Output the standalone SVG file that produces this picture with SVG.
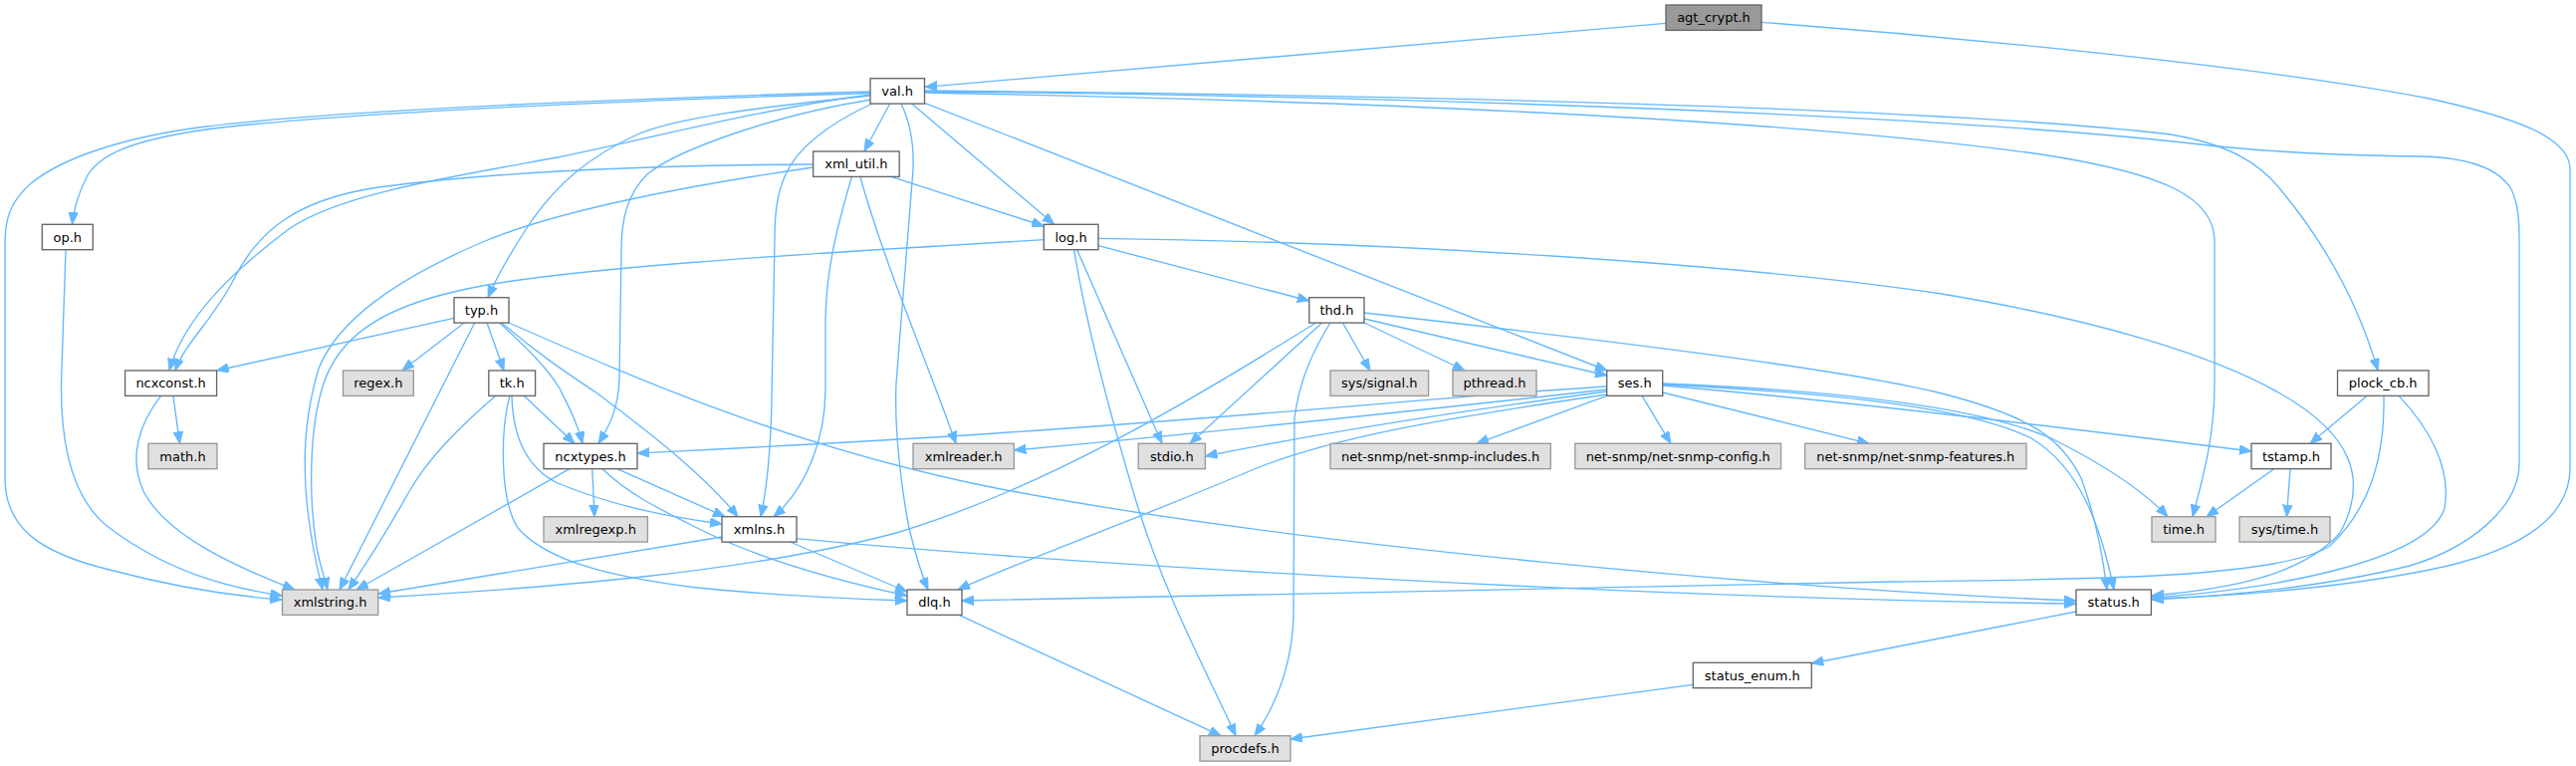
<svg xmlns="http://www.w3.org/2000/svg" width="2587" height="769" viewBox="0 0 2587 769">
<style>
.e path{fill:none;stroke:#63b8ff;stroke-width:1.35;marker-end:url(#ah)}
.n rect{fill:#ffffff;stroke:#666666;stroke-width:1.35}
.x rect{fill:#e0e0e0;stroke:#999999;stroke-width:1.35}
.r rect{fill:#999999;stroke:#666666;stroke-width:1.35}
text{font-family:"DejaVu Sans","Liberation Sans",sans-serif;font-size:13px;fill:#000000;text-anchor:middle}
</style>
<defs>
<marker id="ah" markerWidth="13" markerHeight="10" refX="12" refY="4.75" orient="auto" markerUnits="userSpaceOnUse">
<path d="M0,0 L12,4.75 L0,9.5 Z" fill="#63b8ff" stroke="#63b8ff" stroke-width="1"/>
</marker>
</defs>
<rect width="2587" height="769" fill="#ffffff"/>
<g id="connectors" class="e">
<path d="M1673,23.3 L929,87.3"/>
<path d="M1769,22.3 C1950,36 2270,66 2440,99 C2535,120 2581,140 2581,170 L2581,470 C2581,525 2520,556 2440,572 C2350,590 2250,598 2161,601"/>
<path d="M874,92 C600,100 330,112 207,127 C120,138 60,160 30,185 C10,203 5,220 5,245 L5,480 C5,530 40,555 110,572 C170,588 230,598 283,602"/>
<path d="M874,93.5 C600,102 330,114 207,130 C130,141 100,156 88,176 C78,195 74,210 72.5,225"/>
<path d="M874,96 C760,108 680,118 640,135 C590,158 560,185 535,220 C515,250 500,275 490,298.7"/>
<path d="M874,95 C760,110 650,140 560,158 C450,178 340,195 290,230 C230,275 185,320 170,372"/>
<path d="M875,100 C780,115 680,150 650,175 C630,195 624,220 624,250 L622,380 C621,410 612,428 601,445"/>
<path d="M876,104 C830,125 800,150 789,175 C780,195 778,215 778,240 L775,400 C774,460 769,495 764,518.7"/>
<path d="M893.7,104 L868,151.7"/>
<path d="M915.6,104 L1058.7,225.3"/>
<path d="M905,104 C915,125 918,145 917,170 L900,385 C898,430 905,490 913,530 C920,560 927,580 932,592"/>
<path d="M928.5,103.3 L1614,372"/>
<path d="M928.5,93 C1400,102 1800,120 2050,155 C2180,175 2222,200 2224,240 L2224,385 C2224,440 2212,480 2202,518.7"/>
<path d="M928.5,91 C1400,95 1950,108 2180,135 C2240,145 2270,165 2290,190 C2340,250 2370,310 2388,372"/>
<path d="M928.5,92 C1400,96 1950,115 2210,145 C2280,153 2350,156 2430,157 C2480,158 2510,170 2522,190 C2529,205 2530,220 2530,240 L2530,465 C2530,510 2480,550 2420,568 C2330,590 2240,598 2161,602"/>
<path d="M816.6,165 C650,166 500,172 380,188 C300,200 260,230 235,280 C215,320 185,345 176,372"/>
<path d="M816.6,168 C700,185 560,210 480,245 C400,280 340,320 320,370 C305,420 303,470 310,520 C315,560 320,575 324,592"/>
<path d="M855.5,177.3 C840,230 830,270 829,320 L829,390 C829,440 810,490 777,518.7"/>
<path d="M863.8,177.3 C890,270 930,360 960,445.3"/>
<path d="M895,177.3 L1048.3,227"/>
<path d="M1048.3,240.7 C800,255 550,270 460,292 C380,310 340,340 325,385 C310,430 310,500 318,550 C322,570 326,580 329,592"/>
<path d="M1103,246.7 L1314.8,302"/>
<path d="M1081.5,250.3 L1167,445.3"/>
<path d="M1078.5,250.3 C1090,320 1110,400 1140,500 C1170,600 1215,680 1241,738.7"/>
<path d="M1103,239.3 C1400,243 1750,265 1950,295 C2100,320 2220,355 2290,395 C2360,435 2380,480 2350,535 C2310,580 2230,592 2161,598"/>
<path d="M456,319.3 L217.6,372"/>
<path d="M466.3,324 L404,372"/>
<path d="M489,324 L506,372"/>
<path d="M476.7,324 L341,592"/>
<path d="M501.6,324 C530,350 550,370 562,390 C572,410 580,425 585,445.3"/>
<path d="M503.6,324 C540,355 570,375 600,395 C660,440 710,480 741,518.7"/>
<path d="M511,324 C650,385 800,450 1000,490 C1300,548 1800,592 2085,603"/>
<path d="M497.4,397.4 C460,430 430,460 410,495 C385,540 365,570 350,592"/>
<path d="M526.4,397.4 L577,445.3"/>
<path d="M514,397.4 C515,440 530,470 560,485 C620,510 680,520 725,526"/>
<path d="M512,397.4 C503,430 501,500 520,530 C550,565 620,580 700,590 C780,598 850,601 911,603"/>
<path d="M572,470.7 L358,592"/>
<path d="M594.8,470.7 L597,518.7"/>
<path d="M619.7,470.7 L728,518.7"/>
<path d="M605,470.7 C630,495 660,510 700,530 C770,565 850,585 911,598"/>
<path d="M725,539 C600,560 480,580 380,596"/>
<path d="M793.4,544 L911,594"/>
<path d="M800,540.7 C1000,560 1600,600 2085,606"/>
<path d="M963,617.3 L1226,738.7"/>
<path d="M1370,320 L1614,377"/>
<path d="M1370,324 L1471,372"/>
<path d="M1348.4,324 L1376,372"/>
<path d="M1327.7,324 L1195,445.3"/>
<path d="M1321.5,324 C1200,400 1050,490 900,535 C750,575 550,590 380,600"/>
<path d="M1336,324 C1320,350 1305,380 1300,420 L1299,620 C1297,670 1280,710 1260,738.7"/>
<path d="M1370,314 C1600,340 1850,370 1950,395 C2040,418 2070,440 2090,480 C2105,520 2112,560 2116,592"/>
<path d="M1613.7,388 C1450,398 1300,415 1000,435 C850,445 740,450 640,455"/>
<path d="M1613.7,391 C1400,415 1150,440 1018.4,452"/>
<path d="M1613.7,393 C1450,415 1300,440 1210.4,458"/>
<path d="M1613.7,396 C1450,420 1330,440 1250,475 C1120,530 1020,565 962,592"/>
<path d="M1613.7,397.4 L1483,445.3"/>
<path d="M1649,397.4 L1678,445.3"/>
<path d="M1669.6,394 L1877,445.3"/>
<path d="M1669.6,387 C1800,398 2000,420 2261,453"/>
<path d="M1669.6,385 C1850,392 1990,410 2060,440 C2110,465 2150,490 2177,518.7"/>
<path d="M1669.6,386 C1850,395 1980,410 2040,440 C2090,470 2110,530 2123,592"/>
<path d="M2377,397.4 L2320,445.3"/>
<path d="M2394,397.4 C2395,460 2380,510 2340,548 C2290,580 2100,582 1900,584 C1500,592 1200,600 966,603"/>
<path d="M2409,397.4 C2440,430 2462,470 2455,510 C2440,560 2300,590 2161,600"/>
<path d="M2283.7,470.7 L2216,518.7"/>
<path d="M2300,470.7 L2296.5,518.7"/>
<path d="M2085,614 L1819.3,666"/>
<path d="M1700.3,687.3 L1296,742"/>
<path d="M66,250.6 L61.5,385 C61,440 70,500 110,530 C170,575 230,590 283.5,598"/>
<path d="M161.7,397.4 C140,425 128,460 145,495 C170,540 240,570 296,592"/>
<path d="M174,397.4 L180.5,445.3"/>
</g>
<g id="agt_crypt" class="r"><rect x="1673" y="5" width="96" height="25.4"/><text x="1721" y="22.3">agt_crypt.h</text></g>
<g id="val" class="n"><rect x="874" y="78.7" width="54.5" height="25.4"/><text x="901.2" y="96">val.h</text></g>
<g id="xml_util" class="n"><rect x="816.6" y="152" width="86.6" height="25.4"/><text x="859.9" y="169.3">xml_util.h</text></g>
<g id="log" class="n"><rect x="1048.3" y="225.3" width="54.7" height="25.4"/><text x="1075.6" y="242.6">log.h</text></g>
<g id="op" class="n"><rect x="42.3" y="225.3" width="51" height="25.4"/><text x="67.8" y="242.6">op.h</text></g>
<g id="typ" class="n"><rect x="456" y="298.7" width="55" height="25.4"/><text x="483.5" y="316">typ.h</text></g>
<g id="thd" class="n"><rect x="1314.8" y="298.7" width="55.2" height="25.4"/><text x="1342.4" y="316">thd.h</text></g>
<g id="ncxconst" class="n"><rect x="125.6" y="372" width="92" height="25.4"/><text x="171.6" y="389.3">ncxconst.h</text></g>
<g id="regex" class="x"><rect x="344.5" y="372" width="70.8" height="25.4"/><text x="379.9" y="389.3">regex.h</text></g>
<g id="tk" class="n"><rect x="490.8" y="372" width="46.8" height="25.4"/><text x="514.2" y="389.3">tk.h</text></g>
<g id="sys_signal" class="x"><rect x="1336" y="372" width="98.6" height="25.4"/><text x="1385.3" y="389.3">sys/signal.h</text></g>
<g id="pthread" class="x"><rect x="1459" y="372" width="84" height="25.4"/><text x="1501" y="389.3">pthread.h</text></g>
<g id="ses" class="n"><rect x="1613.7" y="372" width="56" height="25.4"/><text x="1641.7" y="389.3">ses.h</text></g>
<g id="plock_cb" class="n"><rect x="2347.5" y="372" width="91.5" height="25.4"/><text x="2393.2" y="389.3">plock_cb.h</text></g>
<g id="math" class="x"><rect x="149" y="445.3" width="69" height="25.4"/><text x="183.5" y="462.6">math.h</text></g>
<g id="ncxtypes" class="n"><rect x="546" y="445.3" width="94" height="25.4"/><text x="593" y="462.6">ncxtypes.h</text></g>
<g id="xmlreader" class="x"><rect x="917" y="445.3" width="101.4" height="25.4"/><text x="967.7" y="462.6">xmlreader.h</text></g>
<g id="stdio" class="x"><rect x="1143.2" y="445.3" width="67.2" height="25.4"/><text x="1176.8" y="462.6">stdio.h</text></g>
<g id="netsnmp_includes" class="x"><rect x="1336" y="445.3" width="221.3" height="25.4"/><text x="1446.6" y="462.6">net-snmp/net-snmp-includes.h</text></g>
<g id="netsnmp_config" class="x"><rect x="1581.8" y="445.3" width="206.8" height="25.4"/><text x="1685.2" y="462.6">net-snmp/net-snmp-config.h</text></g>
<g id="netsnmp_features" class="x"><rect x="1812.6" y="445.3" width="222.4" height="25.4"/><text x="1923.8" y="462.6">net-snmp/net-snmp-features.h</text></g>
<g id="tstamp" class="n"><rect x="2261" y="445.3" width="80" height="25.4"/><text x="2301" y="462.6">tstamp.h</text></g>
<g id="xmlregexp" class="x"><rect x="546" y="518.7" width="104.4" height="25.4"/><text x="598.2" y="536">xmlregexp.h</text></g>
<g id="xmlns" class="n"><rect x="725" y="518.7" width="75" height="25.4"/><text x="762.5" y="536">xmlns.h</text></g>
<g id="time" class="x"><rect x="2161" y="518.7" width="64" height="25.4"/><text x="2193" y="536">time.h</text></g>
<g id="sys_time" class="x"><rect x="2249" y="518.7" width="91" height="25.4"/><text x="2294.5" y="536">sys/time.h</text></g>
<g id="xmlstring" class="x"><rect x="283.5" y="592" width="96.2" height="25.4"/><text x="331.6" y="609.3">xmlstring.h</text></g>
<g id="dlq" class="n"><rect x="911" y="592" width="55" height="25.4"/><text x="938.5" y="609.3">dlq.h</text></g>
<g id="status" class="n"><rect x="2085" y="592" width="75.4" height="25.4"/><text x="2122.7" y="609.3">status.h</text></g>
<g id="status_enum" class="n"><rect x="1700.3" y="665.3" width="119" height="25.4"/><text x="1759.8" y="682.6">status_enum.h</text></g>
<g id="procdefs" class="x"><rect x="1205" y="738.7" width="91" height="25.4"/><text x="1250.5" y="756">procdefs.h</text></g>
</svg>
